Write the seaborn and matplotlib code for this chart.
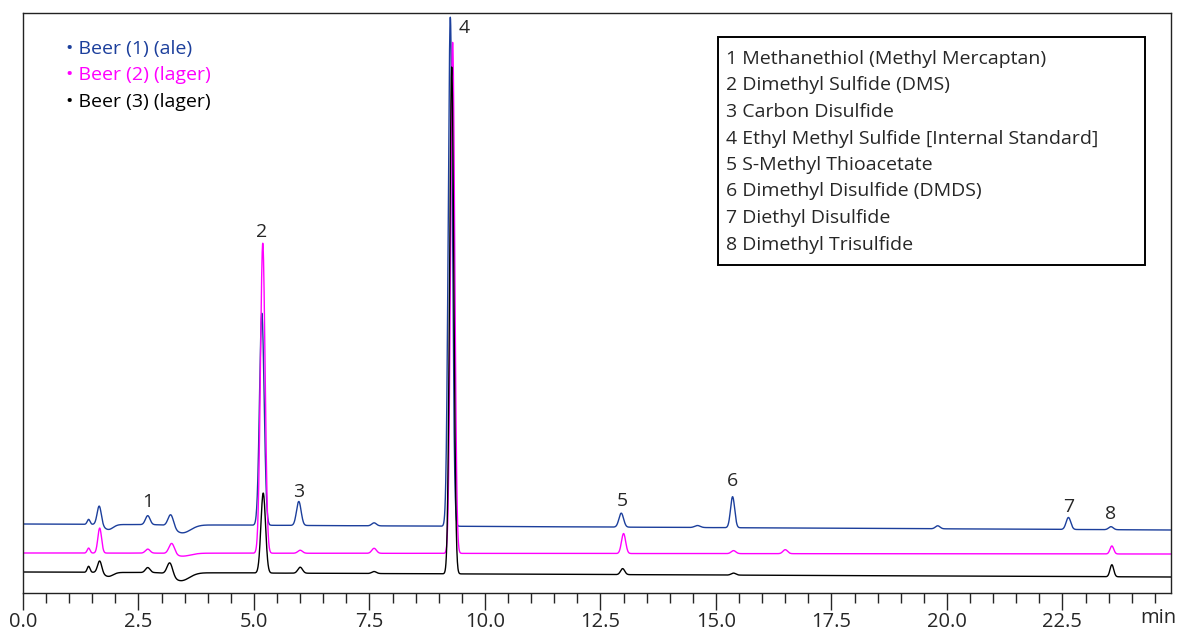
import matplotlib
matplotlib.use("Agg")
import matplotlib.pyplot as plt
import numpy as np
import pandas as pd
import seaborn as sns
from matplotlib.patches import Rectangle
from matplotlib.ticker import MultipleLocator

# ---- data (time in min, signal in arbitrary units) ----
series_names = ["Beer (1) (ale)", "Beer (2) (lager)", "Beer (3) (lager)"]
series_colors = ["#1c3f9c", "#ff00ff", "#000000"]

# baseline level at start / end of run
baseline_start = [69, 40, 21]
baseline_end = [63, 39, 16]

# peak tables: retention time, height, width (sigma)
beer1_rt = [1.42, 1.65, 1.85, 2.70, 3.20, 3.45, 5.17, 5.97, 7.60, 9.25, 12.95, 14.60, 15.36, 19.80, 22.63, 23.55]
beer1_h = [5, 19, -5, 9, 13, -8, 212, 24, 3, 509, 14, 2, 31, 3, 12, 3]
beer1_w = [0.03, 0.045, 0.10, 0.05, 0.06, 0.18, 0.05, 0.05, 0.05, 0.045, 0.05, 0.06, 0.045, 0.05, 0.05, 0.05]

beer2_rt = [1.42, 1.66, 2.70, 3.22, 3.45, 5.19, 6.00, 7.60, 9.30, 13.00, 15.38, 16.50, 23.57]
beer2_h = [5, 25, 4, 11, -3, 310, 3, 5, 511, 20, 3, 4, 8]
beer2_w = [0.03, 0.04, 0.05, 0.06, 0.18, 0.05, 0.05, 0.05, 0.045, 0.045, 0.05, 0.05, 0.04]

beer3_rt = [1.42, 1.66, 1.85, 2.70, 3.18, 3.42, 5.20, 6.00, 7.60, 9.28, 12.98, 15.38, 23.57]
beer3_h = [6, 12, -4, 5, 13, -8, 80, 6, 2, 507, 6, 2, 12]
beer3_w = [0.03, 0.045, 0.10, 0.05, 0.06, 0.18, 0.05, 0.05, 0.05, 0.045, 0.045, 0.05, 0.04]

peak_labels = ["1", "2", "3", "4", "5", "6", "7", "8"]
label_x = [2.70, 5.17, 5.97, 9.56, 12.98, 15.36, 22.63, 23.55]
label_y = [91, 361, 101, 565, 92, 112, 86, 79]

compounds = [
    "1 Methanethiol (Methyl Mercaptan)",
    "2 Dimethyl Sulfide (DMS)",
    "3 Carbon Disulfide",
    "4 Ethyl Methyl Sulfide [Internal Standard]",
    "5 S-Methyl Thioacetate",
    "6 Dimethyl Disulfide (DMDS)",
    "7 Diethyl Disulfide",
    "8 Dimethyl Trisulfide",
]

t_end = 24.85
t = np.linspace(0, t_end, 6000)


def trace(b0, b1, rts, hs, ws):
    y = b0 + (b1 - b0) * t / t_end
    for rt, h, w in zip(rts, hs, ws):
        y = y + h * np.exp(-0.5 * ((t - rt) / w) ** 2)
    return y


tables = [(beer1_rt, beer1_h, beer1_w), (beer2_rt, beer2_h, beer2_w), (beer3_rt, beer3_h, beer3_w)]
frames = []
for i, name in enumerate(series_names):
    rts, hs, ws = tables[i]
    frames.append(pd.DataFrame({"time": t, "signal": trace(baseline_start[i], baseline_end[i], rts, hs, ws),
                                "sample": name}))
df = pd.concat(frames, ignore_index=True)

# ---- plot ----
sns.set_style("white")
plt.rcParams["font.family"] = ["Open Sans", "DejaVu Sans"]

fig = plt.figure(figsize=(11.77, 6.31), dpi=100)
ax = fig.add_axes([23 / 1177, 38 / 631, 1148 / 1177, 580 / 631])

sns.lineplot(data=df, x="time", y="signal", hue="sample", palette=series_colors,
             estimator=None, sort=False, linewidth=1.0, legend=False, ax=ax)

ax.set_xlim(0, t_end)
ax.set_ylim(0, 580)
ax.set_xlabel("")
ax.set_ylabel("")
ax.set_yticks([])
ax.xaxis.set_minor_locator(MultipleLocator(0.5))
ax.set_xticks(np.arange(0, 23, 2.5))
ax.set_xticklabels([f"{v:.1f}" for v in np.arange(0, 23, 2.5)])
ax.tick_params(axis="x", which="major", direction="out", length=12, width=1, labelsize=14.5, pad=2,
               bottom=True)
ax.tick_params(axis="x", which="minor", direction="out", length=7, width=1, bottom=True)
for sp in ax.spines.values():
    sp.set_color("#222222")
    sp.set_linewidth(1.0)

ax.text(24.58, -15, "min", fontsize=14.5, ha="center", va="top")

# peak numbers
for lab, x, y in zip(peak_labels, label_x, label_y):
    ax.text(x, y, lab, fontsize=14, ha="center", va="center")

# sample legend (top-left)
for i, name in enumerate(series_names):
    fig.text(66 / 1177, 1 - (49 + i * 26.5) / 631, "\u2022 " + name, color=series_colors[i],
             fontsize=14, ha="left", va="center")

# compound key (top-right box)
fig.patches.append(Rectangle((718 / 1177, 1 - 265 / 631), 427 / 1177, 228 / 631,
                             transform=fig.transFigure, fill=False, edgecolor="black", linewidth=1.4))
for i, c in enumerate(compounds):
    fig.text(726 / 1177, 1 - (59 + i * 26.5) / 631, c, fontsize=14, ha="left", va="center")

fig.savefig("out.png", dpi=100)
